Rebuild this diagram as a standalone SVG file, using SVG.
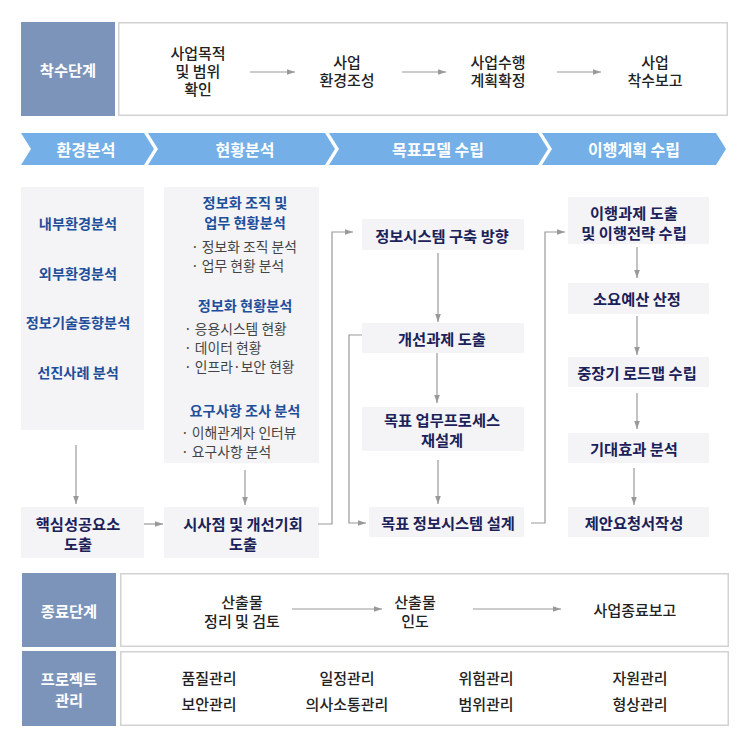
<svg xmlns="http://www.w3.org/2000/svg" width="756" height="746" viewBox="0 0 756 746">
<defs>
<marker id="ah" viewBox="0 0 10 10" refX="10" refY="5" markerWidth="8" markerHeight="8" markerUnits="userSpaceOnUse" orient="auto">
<path d="M0,1.5 L10,5 L0,8.5 z" fill="#999"/>
</marker>
<style>
text{font-family:"Noto Sans CJK KR","Noto Sans",sans-serif;text-anchor:middle;dominant-baseline:central}
.lab{fill:#7d94ba}
.wb{fill:#fff;stroke:#d2d2d2;stroke-width:1.5}
.lt{fill:#fff;font-size:15.3px;font-weight:bold}
.pt{fill:#222;font-size:15px;font-weight:500}
.chev{fill:#74b0e7}
.ct{fill:#fff;font-size:16px;font-weight:bold}
.gb{fill:#f4f4f6}
.bh{fill:#1f4e9b;font-size:14.2px;font-weight:bold}
.nv{fill:#1b2159;font-size:15.3px;font-weight:bold}
.bl{fill:#444;font-size:13.8px;text-anchor:start}
.cn{fill:none;stroke:#999;stroke-width:1.2}
.ar{marker-end:url(#ah)}
</style>
</defs>
<rect width="756" height="746" fill="#fff"/>

<g id="start-stage">
<rect class="lab" x="21" y="22" width="94" height="94"/>
<text class="lt" x="68" y="69">착수단계</text>
<rect class="wb" x="118.75" y="22.75" width="608.5" height="92.5"/>
<text class="pt" x="198" y="52">사업목적</text>
<text class="pt" x="198" y="70">및 범위</text>
<text class="pt" x="198" y="88">확인</text>
<text class="pt" x="347" y="61">사업</text>
<text class="pt" x="347" y="79">환경조성</text>
<text class="pt" x="498" y="61">사업수행</text>
<text class="pt" x="498" y="79">계획확정</text>
<text class="pt" x="655" y="61">사업</text>
<text class="pt" x="655" y="79">착수보고</text>
</g>

<g id="phase-banner">
<polygon class="chev" points="21,133 144,133 154,149 144,165 21,165 31,149"/>
<polygon class="chev" points="148,133 325,133 335,149 325,165 148,165 158,149"/>
<polygon class="chev" points="329,133 538,133 548,149 538,165 329,165 339,149"/>
<polygon class="chev" points="542,133 716,133 726,149 716,165 542,165 552,149"/>
<text class="ct" x="86" y="149">환경분석</text>
<text class="ct" x="245" y="149">현황분석</text>
<text class="ct" x="438" y="149">목표모델 수립</text>
<text class="ct" x="634" y="149">이행계획 수립</text>
</g>

<g id="env-analysis">
<rect class="gb" x="21" y="187" width="123" height="243"/>
<text class="bh" x="78" y="223">내부환경분석</text>
<text class="bh" x="78" y="273">외부환경분석</text>
<text class="bh" x="78" y="322">정보기술동향분석</text>
<text class="bh" x="78" y="372">선진사례 분석</text>
</g>

<g id="csf">
<rect class="gb" x="21" y="507" width="123" height="51"/>
<text class="nv" x="78" y="523">핵심성공요소</text>
<text class="nv" x="78" y="543">도출</text>
</g>

<g id="status-analysis">
<rect class="gb" x="164" y="187" width="155" height="276"/>
<text class="bh" x="245" y="202">정보화 조직 및</text>
<text class="bh" x="245" y="222">업무 현황분석</text>
<text class="bl" x="191" y="246">· 정보화 조직 분석</text>
<text class="bl" x="191" y="265">· 업무 현황 분석</text>
<text class="bh" x="245" y="305">정보화 현황분석</text>
<text class="bl" x="184" y="328">· 응용시스템 현황</text>
<text class="bl" x="184" y="347">· 데이터 현황</text>
<text class="bl" x="184" y="366">· 인프라·보안 현황</text>
<text class="bh" x="245" y="410">요구사항 조사 분석</text>
<text class="bl" x="181" y="432">· 이해관계자 인터뷰</text>
<text class="bl" x="181" y="451">· 요구사항 분석</text>
</g>

<g id="insights">
<rect class="gb" x="164" y="507" width="155" height="51"/>
<text class="nv" x="243" y="523">시사점 및 개선기회</text>
<text class="nv" x="243" y="543">도출</text>
</g>

<g id="is-direction">
<rect class="gb" x="362" y="219" width="162" height="31"/>
<text class="nv" x="442" y="235">정보시스템 구축 방향</text>
</g>
<g id="improvement-tasks">
<rect class="gb" x="362" y="323" width="162" height="30"/>
<text class="nv" x="442" y="338">개선과제 도출</text>
</g>
<g id="target-process">
<rect class="gb" x="362" y="407" width="162" height="44"/>
<text class="nv" x="442" y="419">목표 업무프로세스</text>
<text class="nv" x="442" y="439">재설계</text>
</g>
<g id="target-is">
<rect class="gb" x="369" y="507" width="155" height="30"/>
<text class="nv" x="448" y="522">목표 정보시스템 설계</text>
</g>

<g id="impl-tasks">
<rect class="gb" x="568" y="197" width="141" height="47"/>
<text class="nv" x="634" y="212">이행과제 도출</text>
<text class="nv" x="634" y="232">및 이행전략 수립</text>
</g>
<g id="budget">
<rect class="gb" x="568" y="283" width="141" height="31"/>
<text class="nv" x="637" y="298">소요예산 산정</text>
</g>
<g id="roadmap">
<rect class="gb" x="568" y="357" width="141" height="30"/>
<text class="nv" x="637" y="372">중장기 로드맵 수립</text>
</g>
<g id="benefits">
<rect class="gb" x="568" y="433" width="141" height="30"/>
<text class="nv" x="634" y="448">기대효과 분석</text>
</g>
<g id="rfp">
<rect class="gb" x="568" y="507" width="141" height="30"/>
<text class="nv" x="634" y="522">제안요청서작성</text>
</g>

<g id="end-stage">
<rect class="lab" x="22" y="573" width="94" height="74"/>
<text class="lt" x="69" y="610">종료단계</text>
<rect class="wb" x="120.75" y="573.75" width="607.5" height="72.5"/>
<text class="pt" x="242" y="601">산출물</text>
<text class="pt" x="242" y="620">정리 및 검토</text>
<text class="pt" x="415" y="601">산출물</text>
<text class="pt" x="415" y="620">인도</text>
<text class="pt" x="635" y="609">사업종료보고</text>
</g>

<g id="pm">
<rect class="lab" x="22" y="651" width="94" height="75"/>
<text class="lt" x="69" y="678">프로젝트</text>
<text class="lt" x="69" y="699">관리</text>
<rect class="wb" x="120.75" y="651.75" width="607.5" height="73.5"/>
<text class="pt" x="209" y="677">품질관리</text>
<text class="pt" x="209" y="703">보안관리</text>
<text class="pt" x="347" y="677">일정관리</text>
<text class="pt" x="347" y="703">의사소통관리</text>
<text class="pt" x="486" y="677">위험관리</text>
<text class="pt" x="486" y="703">범위관리</text>
<text class="pt" x="640" y="677">자원관리</text>
<text class="pt" x="640" y="703">형상관리</text>
</g>

<g id="connectors">
<line class="cn ar" x1="250" y1="72" x2="295" y2="72"/>
<line class="cn ar" x1="402" y1="72" x2="446" y2="72"/>
<line class="cn ar" x1="557" y1="72" x2="601" y2="72"/>
<line class="cn ar" x1="76" y1="445" x2="76" y2="504"/>
<line class="cn ar" x1="245" y1="470" x2="245" y2="505"/>
<line class="cn ar" x1="144" y1="524" x2="163" y2="524"/>
<polyline class="cn ar" points="318,524 332,524 332,232 353,232"/>
<line class="cn ar" x1="438" y1="253" x2="438" y2="322"/>
<polyline class="cn ar" points="362,335 349,335 349,523 366,523"/>
<line class="cn ar" x1="437" y1="353" x2="437" y2="403"/>
<line class="cn ar" x1="438" y1="460" x2="438" y2="504"/>
<polyline class="cn ar" points="531,523 545,523 545,232 565,232"/>
<line class="cn ar" x1="637" y1="247" x2="637" y2="278"/>
<line class="cn ar" x1="637" y1="316" x2="637" y2="355"/>
<line class="cn ar" x1="637" y1="393" x2="637" y2="429"/>
<line class="cn ar" x1="634" y1="468" x2="634" y2="505"/>
<line class="cn ar" x1="292" y1="609" x2="382" y2="609"/>
<line class="cn ar" x1="473" y1="609" x2="561" y2="609"/>
</g>
</svg>
